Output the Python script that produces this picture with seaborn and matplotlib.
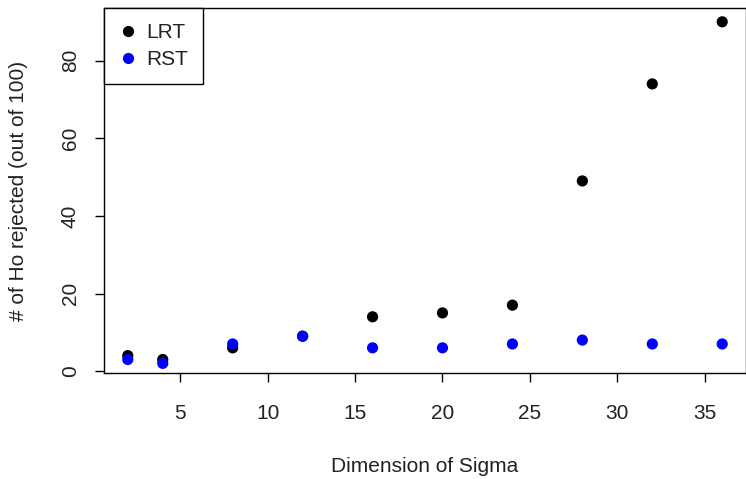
import matplotlib
matplotlib.use("Agg")
import matplotlib.pyplot as plt
import seaborn as sns
import pandas as pd

dimensao = [2, 4, 8, 12, 16, 20, 24, 28, 32, 36]
lrt = [4, 3, 6, 9, 14, 15, 17, 49, 74, 90]
rst = [3, 2, 7, 9, 6, 6, 7, 8, 7, 7]

df = pd.concat([
    pd.DataFrame({"dim": dimensao, "rej": lrt, "teste": "LRT"}),
    pd.DataFrame({"dim": dimensao, "rej": rst, "teste": "RST"}),
])

sns.set_style("ticks")
plt.rcParams["font.family"] = ["Liberation Sans", "DejaVu Sans"]

fig = plt.figure(figsize=(7.46, 4.79), dpi=100)
ax = fig.add_axes([104 / 746, 1 - 373 / 479, 1 - 104 / 746, (373 - 8.3) / 479])

sns.scatterplot(data=df, x="dim", y="rej", hue="teste",
                palette={"LRT": "black", "RST": "blue"},
                s=65, edgecolor="none", linewidth=0, ax=ax)

ax.set_xlim(0.64, 37.36)
ax.set_ylim(-0.48, 93.48)
ax.set_xticks([5, 10, 15, 20, 25, 30, 35])
ax.set_yticks([0, 20, 40, 60, 80])
for lbl in ax.get_yticklabels():
    lbl.set_rotation(90)
    lbl.set_va("center")
ax.tick_params(axis="both", length=6.5, width=1, colors="black", labelsize=15,
               labelcolor="#222222")
ax.tick_params(axis="y", pad=11)
ax.tick_params(axis="x", pad=16)
for sp in ax.spines.values():
    sp.set_color("black")
    sp.set_linewidth(1)

ax.set_xlabel("Dimension of Sigma", fontsize=15, color="#222222", va="center")
ax.set_ylabel("# of Ho rejected (out of 100)", fontsize=15, color="#222222", va="center")
ax.xaxis.set_label_coords((425 - 104) / 642, (373 - 466) / 364.7)
ax.yaxis.set_label_coords((18 - 104) / 642, 0.5)

leg = ax.legend(loc="upper left", borderaxespad=0, fancybox=False, framealpha=1,
                edgecolor="black", fontsize=15, handlelength=0.9, handletextpad=0.45,
                borderpad=0.7, labelspacing=0.4, title=None, markerscale=1.0)
leg.get_frame().set_linewidth(1)
for t in leg.get_texts():
    t.set_color("#222222")

fig.savefig("out.png", dpi=100)
